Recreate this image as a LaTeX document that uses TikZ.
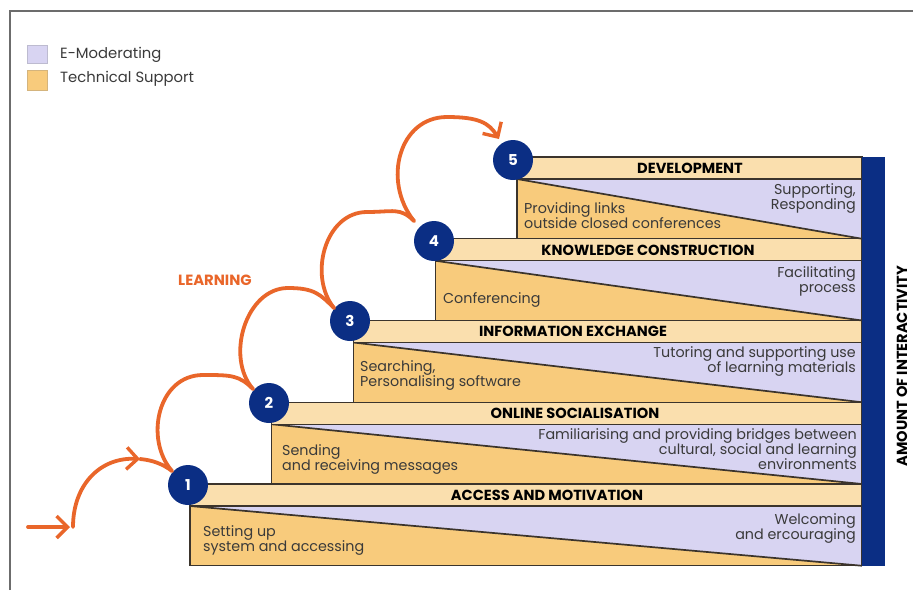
\documentclass[tikz,border=0pt]{standalone}
\usepackage{fontspec}
\setmainfont{Poppins}
\usetikzlibrary{arrows.meta}
\definecolor{lav}{HTML}{D8D4F2}
\definecolor{org}{HTML}{F8CB7C}
\definecolor{barc}{HTML}{FADFAE}
\definecolor{navy}{HTML}{0B2E84}
\definecolor{arr}{HTML}{E9662A}
\definecolor{txt}{HTML}{3A3A3A}
\definecolor{edgec}{HTML}{3B342C}
\tikzset{
  boxedge/.style={draw=edgec, line width=1.1pt},
  diag/.style={draw=edgec, line width=1.7pt},
  circ/.style={circle, fill=navy, minimum size=40pt, inner sep=0pt, text=white, font=\fontsize{15}{15}\selectfont\bfseries},
  ttl/.style={font=\fontsize{14.6}{15}\selectfont\bfseries, text=black, inner sep=0pt},
  lft/.style={font=\fontsize{14.3}{15}\selectfont, text=txt, align=left, anchor=west, inner sep=0pt},
  rgt/.style={font=\fontsize{14.3}{15}\selectfont, text=txt, align=right, anchor=east, inner sep=0pt},
  arc/.style={draw=arr, line width=3.8pt, line cap=round},
  arct/.style={arc, -{Straight Barb[length=11pt, width=22pt, line width=3.4pt]}},
  leg/.style={font=\fontsize{14.8}{15}\selectfont, text=txt, anchor=west, inner sep=0pt},
}
\begin{document}
\begin{tikzpicture}[x=1pt,y=-1pt]
\useasboundingbox (0,0) rectangle (913,590);
\draw[draw=gray!85!black, line width=2pt] (10,590) -- (10,11) -- (913,11);
% legend
\filldraw[fill=lav, draw=lav!70!gray, line width=0.6pt] (27,45) rectangle (47,63);
\filldraw[fill=org, draw=org!70!gray, line width=0.6pt] (27,70) rectangle (47,90);
\node[leg] (l1) at (60,55) {E-Moderating};
\node[leg] (l2) at (60,79) {Technical Support};
% steps
\foreach \L/\B in {190/484, 271.75/402.25, 353.5/320.5, 435.25/238.75, 517/157}{
  \fill[lav] (\L,\B+22) rectangle (862,\B+81.75);
  \fill[org] (\L,\B+22) -- (862,\B+81.75) -- (\L,\B+81.75) -- cycle;
  \draw[boxedge] (\L,\B+22) rectangle (862,\B+81.75);
  \draw[diag] (\L,\B+22) -- (862,\B+81.75);
  \filldraw[boxedge, fill=barc] (\L,\B) rectangle (862,\B+22);
}
\fill[navy] (862,157) rectangle (885,566);
\node[rotate=90, font=\fontsize{14.6}{15}\selectfont\bfseries, text=black] (amt) at (902,366) {AMOUNT OF INTERACTIVITY};
% titles
\node[ttl] (t1) at (547,495) {ACCESS AND MOTIVATION};
\node[ttl] (t2) at (575,413) {ONLINE SOCIALISATION};
\node[ttl] (t3) at (573,331) {INFORMATION EXCHANGE};
\node[ttl] (t4) at (648,250) {KNOWLEDGE CONSTRUCTION};
\node[ttl] (t5) at (690,168) {DEVELOPMENT};
% body texts
\node[lft] (a1) at (203,540) {Setting up\\system and accessing};
\node[rgt] (b1) at (856,528) {Welcoming\\and ercouraging};
\node[lft] (a2) at (282,459) {Sending\\and receiving messages};
\node[rgt] (b2) at (857,449) {Familiarising and providing bridges between\\cultural, social and learning\\environments};
\node[lft] (a3) at (360,375) {Searching,\\Personalising software};
\node[rgt] (b3) at (856,361) {Tutoring and supporting use\\of learning materials};
\node[lft] (a4) at (443,300) {Conferencing};
\node[rgt] (b4) at (856,281) {Facilitating\\process};
\node[lft] (a5) at (524,216) {Providing links\\outside closed conferences};
\node[rgt] (b5) at (856,198) {Supporting,\\Responding};
% circles
\node[circ] (c1) at (188,485) {1};
\node[circ] (c2) at (269,403) {2};
\node[circ] (c3) at (350,321) {3};
\node[circ] (c4) at (434,241) {4};
\node[circ] (c5) at (513,160) {5};
\node[font=\fontsize{14.8}{15}\selectfont\bfseries, text=arr] (learn) at (215,280) {LEARNING};
% arrows
\coordinate (s0) at (28,527);
\coordinate (s1) at (70,527);
\coordinate (m0) at (140,459);
\coordinate (j1) at (172,471);
\coordinate (j2) at (253,389);
\coordinate (j3) at (334,308);
\coordinate (j4) at (414,221);
\coordinate (p1) at (203,375);
\coordinate (p2) at (288,288);
\coordinate (p3) at (367,212);
\coordinate (p4) at (447,117);
\coordinate (e5) at (499,139);
\draw[arct] (s0) -- (s1);
\draw[arct] (73,527) .. controls (73,485) and (100,457) .. (m0);
\draw[arc] (m0) .. controls (152,460) and (163,464) .. (j1);
\draw[arc] (j1) .. controls +(-28,-32) and +(-45,0) .. (p1) .. controls +(28,0) and +(-14,-14) .. (j2);
\draw[arc] (j2) .. controls +(-28,-32) and +(-42,0) .. (p2) .. controls +(26,0) and +(-14,-14) .. (j3);
\draw[arc] (j3) .. controls +(-26,-32) and +(-42,0) .. (p3) .. controls +(26,0) and +(-14,-14) .. (j4);
\draw[arct] (j4) .. controls +(-32,-40) and +(-48,0) .. (p4) .. controls +(32,0) and +(-10,-16) .. (e5);
\end{tikzpicture}
\end{document}
